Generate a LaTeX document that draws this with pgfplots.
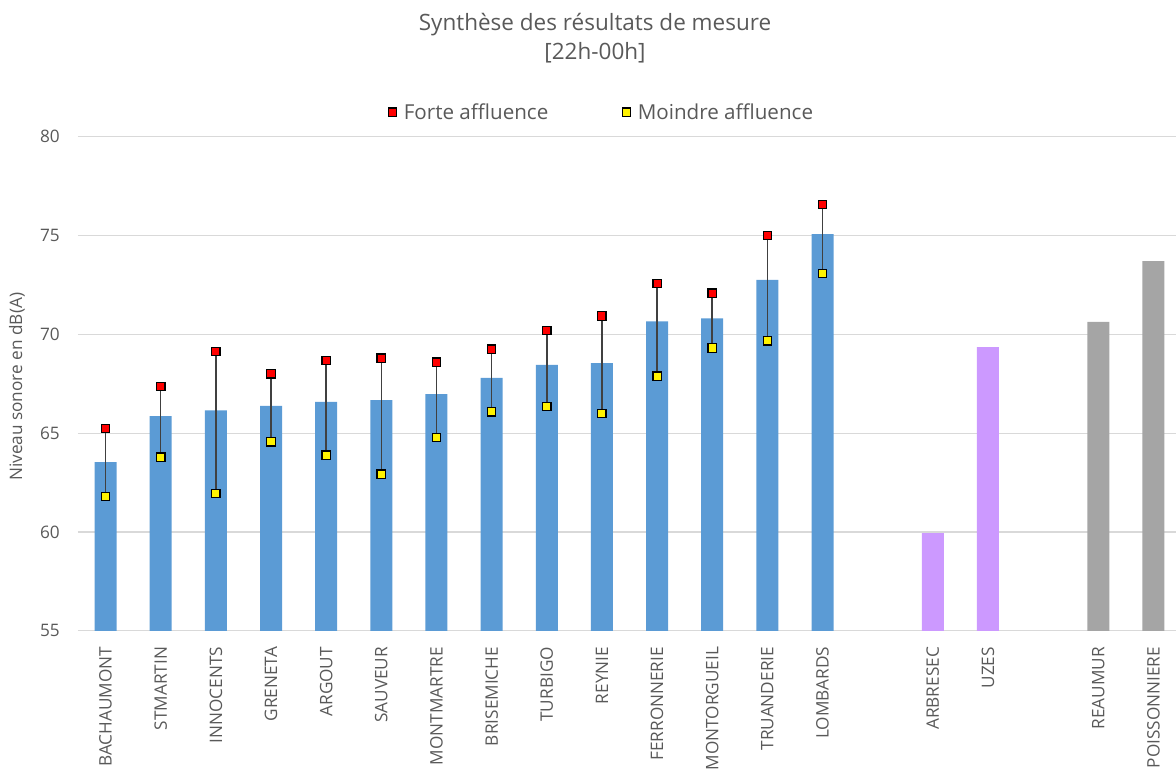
\documentclass[border=0pt]{standalone}
\usepackage{fontspec}
\setmainfont{Open Sans}
\usepackage{pgfplots}
\usepackage{pgfplotstable}
\pgfplotsset{compat=1.18}

\definecolor{txtgray}{RGB}{89,89,89}
\definecolor{gridgray}{RGB}{217,217,217}
\definecolor{barblue}{RGB}{91,155,213}
\definecolor{barpurple}{RGB}{204,153,255}
\definecolor{bargray}{RGB}{165,165,165}

% rues avec mesures : moyenne, forte et moindre affluence
\pgfplotstableread{
x  bar    hi     lo
0  63.54  65.24  61.80
1  65.86  67.36  63.79
2  66.15  69.13  61.95
3  66.38  68.00  64.56
4  66.59  68.68  63.88
5  66.67  68.80  62.92
6  66.98  68.60  64.78
7  67.80  69.25  66.08
8  68.46  70.20  66.35
9  68.55  70.93  65.99
10 70.66  72.57  67.88
11 70.81  72.08  69.31
12 72.76  75.00  69.67
13 75.08  76.57  73.08
}\mesures

\pgfplotstableread{
x  bar
15 59.94
16 69.35
}\violet

\pgfplotstableread{
x  bar
18 70.63
19 73.71
}\gris

\newcommand{\tickfont}{\fontsize{17.2}{20}\selectfont}

\begin{document}
\begin{tikzpicture}
\begin{axis}[
  name=ax,
  scale only axis,
  width=1098pt, height=494pt,
  xmin=-0.5, xmax=19.41,
  ymin=55, ymax=80,
  ytick={55,60,...,80},
  xtick={0,1,...,13,15,16,18,19},
  xticklabels={BACHAUMONT,STMARTIN,INNOCENTS,GRENETA,ARGOUT,SAUVEUR,MONTMARTRE,BRISEMICHE,TURBIGO,REYNIE,FERRONNERIE,MONTORGUEIL,TRUANDERIE,LOMBARDS,ARBRESEC,UZES,REAUMUR,POISSONNIERE},
  x tick label style={rotate=90, anchor=east, inner sep=0pt,
    font=\tickfont, text=txtgray},
  y tick label style={inner sep=0pt, font=\tickfont, text=txtgray},
  xticklabel shift=16pt,
  yticklabel shift=18pt,
  /pgf/number format/assume math mode=true,
  axis line style={draw=none},
  major tick length=0pt,
  ymajorgrids,
  grid style={gridgray, line width=1.3pt},
  ylabel={Niveau sonore en dB(A)},
  every axis y label/.style={at={([xshift=-61pt,yshift=-3pt]axis description cs:0,0.5)},
    rotate=90, anchor=center, font=\tickfont, text=txtgray},
  legend style={at={(0.477,1.05)}, anchor=center, draw=none, fill=none,
    legend columns=2, font=\fontsize{20.6}{24}\selectfont, text=txtgray,
    /tikz/every odd column/.append style={column sep=5pt},
    /tikz/every even column/.append style={column sep=72pt}},
]

% barres
\addplot[ybar, bar width=22pt, bar shift=0pt, fill=barblue, draw=none, forget plot]
  table[x=x, y=bar] {\mesures};
\addplot[ybar, bar width=22pt, bar shift=0pt, fill=barpurple, draw=none, forget plot]
  table[x=x, y=bar] {\violet};
\addplot[ybar, bar width=22pt, bar shift=0pt, fill=bargray, draw=none, forget plot]
  table[x=x, y=bar] {\gris};

% traits entre forte et moindre affluence
\addplot[draw=none, mark=none, forget plot,
  error bars/.cd, y dir=plus, y explicit, error mark=none,
  error bar style={line width=1.5pt, black!75}]
  table[x=x, y=lo, y error expr=\thisrow{hi}-\thisrow{lo}] {\mesures};

% marqueurs
\addplot[only marks, mark=square*, mark size=4.2pt,
  mark options={fill=red, draw=black, line width=1.3pt}]
  table[x=x, y=hi] {\mesures};
\addlegendentry{Forte affluence}
\addplot[only marks, mark=square*, mark size=4.2pt,
  mark options={fill=yellow, draw=black, line width=1.3pt}]
  table[x=x, y=lo] {\mesures};
\addlegendentry{Moindre affluence}

\end{axis}

\node[anchor=base, font=\fontsize{22.5}{27}\selectfont, text=txtgray]
  at ([xshift=517pt, yshift=105.8pt]ax.north west) {Synthèse des résultats de mesure};
\node[anchor=base, font=\fontsize{22.5}{27}\selectfont, text=txtgray]
  at ([xshift=517pt, yshift=77.3pt]ax.north west) {[22h-00h]};

\pgfresetboundingbox
\path[use as bounding box] ([xshift=-78pt, yshift=-141.2pt]ax.south west)
  rectangle ([yshift=136.8pt]ax.north east);
\end{tikzpicture}
\end{document}
